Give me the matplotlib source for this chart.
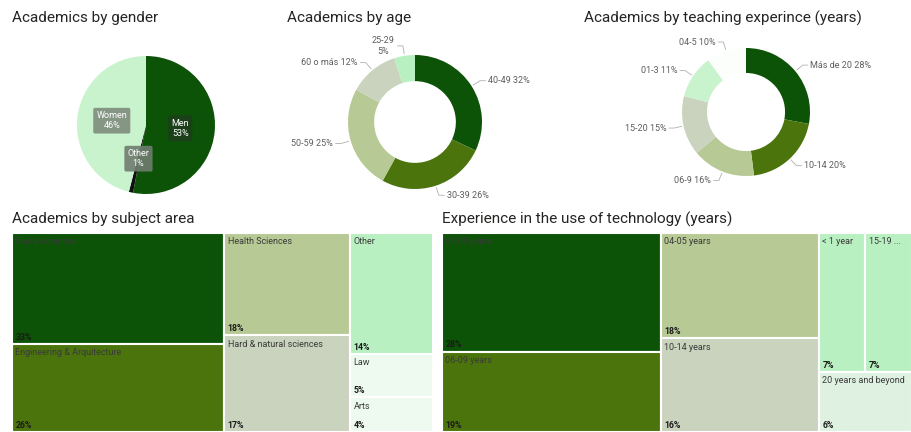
import numpy as np
import matplotlib
matplotlib.use("Agg")
import matplotlib.pyplot as plt
from matplotlib.patches import Rectangle

plt.rcParams['font.family'] = ['Roboto', 'DejaVu Sans']

# ---- data ----
gender_labels = ['Men', 'Other', 'Women']
gender_pct = [53, 1, 46]

age_labels = ['40-49', '30-39', '50-59', '60 o más', '25-29']
age_pct = [32, 26, 25, 12, 5]

teach_labels = ['Más de 20', '10-14', '06-9', '15-20', '01-3', '04-5']
teach_pct = [28, 20, 16, 15, 11, 10]

subject_labels = ['Social sciences', 'Engineering & Arquitecture', 'Health Sciences',
                  'Hard & natural sciences', 'Other', 'Law', 'Arts']
subject_pct = [33, 26, 18, 17, 14, 5, 4]

tech_labels = ['01-03 years', '06-09 years', '04-05 years', '10-14 years',
               '< 1 year', '15-19 ...', '20 years and beyond']
tech_pct = [28, 19, 18, 16, 7, 7, 6]

# colours
DARK = '#0c5307'
OLIVE = '#4b750c'
LOLIVE = '#b7c994'
GREYG = '#cad3bd'
MINT = '#b9f0c1'
PALE = '#eefaef'

W, H = 912, 432
fig = plt.figure(figsize=(W / 100, H / 100), dpi=100)


def px_axes(x0, y0, x1, y1):
    # axes from pixel box (top-left origin)
    return fig.add_axes([x0 / W, 1 - y1 / H, (x1 - x0) / W, (y1 - y0) / H])


def title(x, y, s):
    fig.text(x / W, 1 - y / H, s, fontsize=11, color='#252423', va='center', ha='left')


def donut(cx, cy, r, half, labels, pct, colors):
    ax = px_axes(cx - half, cy - half, cx + half, cy + half)
    lim = half / r
    wedges, _ = ax.pie(pct, colors=colors, startangle=90, counterclock=False,
                       wedgeprops=dict(width=0.39, edgecolor='none'))
    for w, lab, p in zip(wedges, labels, pct):
        ang = np.deg2rad((w.theta1 + w.theta2) / 2)
        c, s = np.cos(ang), np.sin(ang)
        side = 1 if c > 0 else -1
        ax.plot([1.03 * c, 1.15 * c, 1.15 * c + side * 0.08], [1.03 * s, 1.15 * s, 1.15 * s],
                color='#b0b0b0', lw=0.6)
        txt = f'{lab}\n{p}%' if p < 6 else f'{lab} {p}%'
        ax.text(1.15 * c + side * 0.12, 1.15 * s, txt, fontsize=6.5, color='#605e5c',
                ha='left' if c > 0 else 'right', va='center',
                multialignment='center')
    ax.set_xlim(-lim, lim)
    ax.set_ylim(-lim, lim)
    ax.set_aspect('equal')
    ax.axis('off')


def treemap(ax, labels, pct, layout, colors):
    total = sum(pct)
    x = 0.0
    for col in layout:
        col_sum = sum(pct[i] for row in col for i in row)
        w = col_sum / total
        y = 0.0
        for row in col:
            row_sum = sum(pct[i] for i in row)
            h = row_sum / col_sum
            xx = x
            for i in row:
                ww = w * pct[i] / row_sum
                ax.add_patch(Rectangle((xx, y), ww, h, facecolor=colors[i],
                                       edgecolor='white', lw=1.5))
                ax.annotate(labels[i], (xx, y), xytext=(2.5, -3), textcoords='offset points',
                            fontsize=6.5, color='#3a3a3a', va='top', ha='left')
                ax.annotate(f'{pct[i]}%', (xx, y + h), xytext=(2.5, 1.5),
                            textcoords='offset points', fontsize=6.3, fontweight='bold',
                            color='#1a1a1a', va='bottom', ha='left')
                xx += ww
            y += h
        x += w
    ax.set_xlim(0, 1)
    ax.set_ylim(1, 0)
    ax.axis('off')


# ---- gender pie ----
title(12, 18, 'Academics by gender')
cx, cy, r = 146, 125, 69
ax = px_axes(cx - r, cy - r, cx + r, cy + r)
wedges, _ = ax.pie(gender_pct, colors=[DARK, '#111111', '#c9f3cd'], startangle=90,
                   counterclock=False, wedgeprops=dict(edgecolor='none'))
box_cols = ['#1d3d1a', '#6f7d6f', '#7e8c7e']
for w, lab, p, bc in zip(wedges, gender_labels, gender_pct, box_cols):
    ang = np.deg2rad((w.theta1 + w.theta2) / 2)
    ax.text(0.5 * np.cos(ang), 0.5 * np.sin(ang), f'{lab}\n{p}%', fontsize=6.5,
            color='white', ha='center', va='center', multialignment='center',
            bbox=dict(boxstyle='round,pad=0.35,rounding_size=0.2', fc=bc, ec='none',
                      alpha=0.9))
ax.set_xlim(-1, 1)
ax.set_ylim(-1, 1)
ax.axis('off')

# ---- age donut ----
title(287, 18, 'Academics by age')
donut(415, 122, 67, 140, age_labels, age_pct, [DARK, OLIVE, LOLIVE, GREYG, MINT])

# ---- teaching experience donut ----
title(584, 18, 'Academics by teaching experince (years)')
donut(746, 112, 64, 160, teach_labels, teach_pct,
      [DARK, OLIVE, LOLIVE, GREYG, '#c9f3cd', '#fbfefb'])

# ---- subject area treemap ----
title(12, 219, 'Academics by subject area')
ax = px_axes(12, 233, 433, 432)
treemap(ax, subject_labels, subject_pct, [[[0], [1]], [[2], [3]], [[4], [5], [6]]],
        [DARK, OLIVE, LOLIVE, GREYG, MINT, PALE, PALE])

# ---- technology treemap ----
title(442, 219, 'Experience in the use of technology (years)')
ax = px_axes(442, 233, 912, 432)
treemap(ax, tech_labels, tech_pct, [[[0], [1]], [[2], [3]], [[4, 5], [6]]],
        [DARK, OLIVE, LOLIVE, GREYG, MINT, MINT, '#dff2e1'])

fig.savefig('out.png', dpi=100, facecolor='white')
